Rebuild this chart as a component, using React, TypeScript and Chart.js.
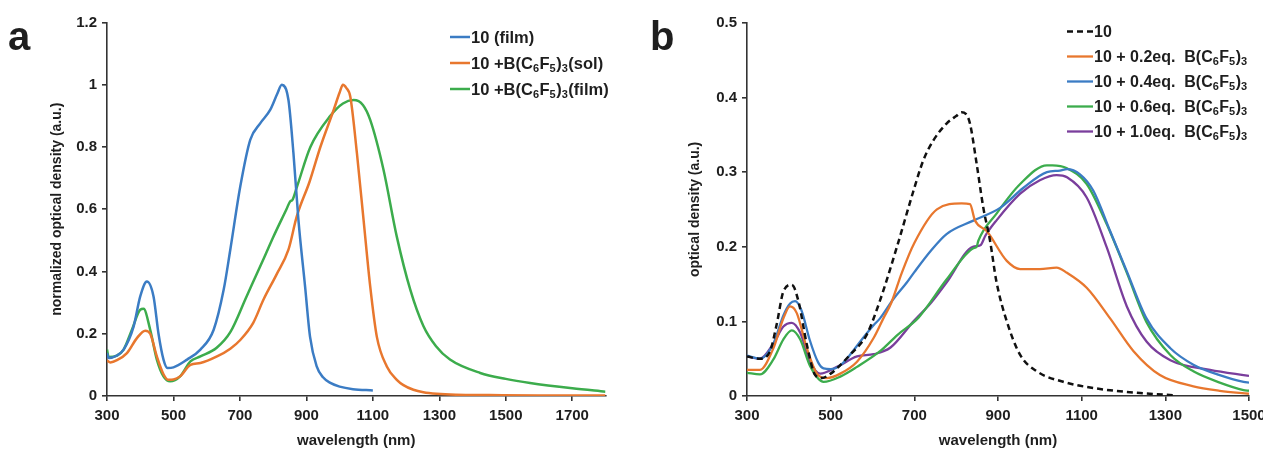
import React, { useEffect, useRef } from "react";
import { Chart, registerables } from "chart.js";
Chart.register(...registerables);

const FONT = "'Liberation Sans', Arial, sans-serif";

// ---------------- Panel a ----------------
const aXTicks = [300, 500, 700, 900, 1100, 1300, 1500, 1700];
const aYTicks = [0, 0.2, 0.4, 0.6, 0.8, 1, 1.2];
const aLabels = ["10 (film)", "10 +B(C₆F₅)₃(sol)", "10 +B(C₆F₅)₃(film)"];

const aFilmX = [300, 305, 330, 350, 380, 400, 420, 440, 455, 470, 482, 500, 541, 581, 621, 651, 671, 701, 731, 761, 791, 812, 826, 846, 861, 876, 896, 911, 931, 950, 972, 1000, 1040, 1100];
const aFilmY = [0.138, 0.122, 0.13, 0.149, 0.223, 0.32, 0.368, 0.32, 0.2, 0.117, 0.09, 0.092, 0.117, 0.149, 0.213, 0.341, 0.47, 0.673, 0.823, 0.876, 0.919, 0.97, 1.0, 0.951, 0.78, 0.566, 0.352, 0.19, 0.095, 0.06, 0.042, 0.03, 0.022, 0.018];

const aSolX = [300, 310, 330, 360, 390, 415, 430, 450, 470, 485, 500, 520, 551, 581, 631, 671, 701, 740, 771, 810, 846, 871, 910, 942, 982, 1000, 1010, 1020, 1032, 1052, 1072, 1092, 1112, 1142, 1172, 1192, 1222, 1252, 1292, 1350, 1450, 1600, 1800];
const aSolY = [0.114, 0.108, 0.115, 0.138, 0.186, 0.21, 0.2, 0.127, 0.07, 0.052, 0.053, 0.063, 0.1, 0.106, 0.127, 0.152, 0.18, 0.235, 0.31, 0.39, 0.47, 0.577, 0.69, 0.8, 0.919, 0.975, 1.0, 0.99, 0.962, 0.78, 0.566, 0.352, 0.19, 0.095, 0.052, 0.035, 0.02, 0.012, 0.007, 0.004, 0.003, 0.002, 0.002];

const aBFilmX = [300, 305, 330, 350, 375, 400, 410, 430, 450, 470, 490, 520, 551, 581, 630, 671, 720, 771, 800, 840, 851, 858, 871, 912, 972, 1010, 1042, 1070, 1092, 1132, 1172, 1213, 1252, 1290, 1332, 1423, 1500, 1573, 1700, 1800];
const aBFilmY = [0.149, 0.125, 0.13, 0.149, 0.213, 0.277, 0.28, 0.213, 0.117, 0.063, 0.047, 0.063, 0.111, 0.127, 0.155, 0.205, 0.32, 0.44, 0.51, 0.6, 0.625, 0.63, 0.67, 0.8, 0.9, 0.94, 0.951, 0.935, 0.887, 0.727, 0.512, 0.34, 0.225, 0.16, 0.117, 0.074, 0.055, 0.042, 0.025, 0.014];

// ---------------- Panel b ----------------
const bXTicks = [300, 500, 700, 900, 1100, 1300, 1500];
const bYTicks = [0, 0.1, 0.2, 0.3, 0.4, 0.5];
const bLabels = ["10", "10 + 0.2eq.  B(C₆F₅)₃", "10 + 0.4eq.  B(C₆F₅)₃", "10 + 0.6eq.  B(C₆F₅)₃", "10 + 1.0eq.  B(C₆F₅)₃"];

const bRefX = [300, 331, 355, 371, 387, 407, 423, 443, 463, 479, 500, 515, 546, 586, 618, 658, 698, 721, 745, 777, 800, 813, 823, 833, 849, 865, 881, 896, 921, 953, 993, 1056, 1136, 1240, 1320];
const bRefY = [0.053, 0.05, 0.06, 0.096, 0.14, 0.149, 0.127, 0.069, 0.028, 0.024, 0.03, 0.037, 0.055, 0.082, 0.128, 0.199, 0.275, 0.315, 0.342, 0.365, 0.375, 0.38, 0.378, 0.365, 0.311, 0.252, 0.208, 0.154, 0.1, 0.055, 0.033, 0.019, 0.01, 0.004, 0.001];

const b02X = [300, 331, 363, 387, 403, 419, 443, 467, 491, 523, 563, 603, 626, 645, 670, 700, 754, 813, 833, 845, 873, 921, 953, 1000, 1040, 1065, 1112, 1168, 1224, 1287, 1367, 1430, 1500];
const b02Y = [0.035, 0.035, 0.064, 0.104, 0.12, 0.111, 0.064, 0.03, 0.024, 0.03, 0.046, 0.078, 0.104, 0.125, 0.165, 0.205, 0.25, 0.258, 0.257, 0.235, 0.221, 0.181, 0.17, 0.17, 0.172, 0.165, 0.145, 0.104, 0.06, 0.028, 0.013, 0.007, 0.003];

const b04X = [300, 331, 363, 387, 403, 415, 430, 450, 470, 483, 500, 523, 546, 575, 603, 618, 650, 682, 700, 740, 777, 841, 905, 961, 1017, 1048, 1065, 1096, 1128, 1168, 1208, 1255, 1312, 1367, 1430, 1487, 1500];
const b04Y = [0.054, 0.05, 0.07, 0.108, 0.124, 0.127, 0.115, 0.075, 0.045, 0.037, 0.036, 0.041, 0.055, 0.076, 0.095, 0.104, 0.13, 0.152, 0.166, 0.195, 0.217, 0.235, 0.252, 0.279, 0.3, 0.302, 0.304, 0.297, 0.275, 0.221, 0.167, 0.104, 0.064, 0.042, 0.028, 0.019, 0.018];

const b06X = [300, 331, 363, 387, 407, 427, 451, 483, 523, 563, 618, 660, 710, 777, 841, 849, 853, 896, 953, 1017, 1030, 1065, 1112, 1160, 1208, 1255, 1312, 1367, 1430, 1487, 1500];
const b06Y = [0.031, 0.029, 0.049, 0.076, 0.088, 0.076, 0.04, 0.019, 0.026, 0.039, 0.06, 0.082, 0.105, 0.156, 0.198, 0.2, 0.208, 0.244, 0.284, 0.309, 0.309, 0.305, 0.284, 0.23, 0.165, 0.099, 0.055, 0.033, 0.018, 0.008, 0.007];

const b10X = [300, 331, 363, 387, 407, 427, 451, 475, 515, 563, 603, 643, 698, 740, 777, 840, 858, 870, 896, 953, 1000, 1040, 1065, 1112, 1160, 1208, 1255, 1312, 1407, 1487, 1500];
const b10Y = [0.053, 0.05, 0.07, 0.093, 0.098, 0.085, 0.046, 0.03, 0.039, 0.053, 0.056, 0.065, 0.1, 0.125, 0.152, 0.2, 0.202, 0.215, 0.235, 0.271, 0.289, 0.296, 0.293, 0.266, 0.199, 0.12, 0.073, 0.048, 0.035, 0.028, 0.027];

const BLUE = "#3b7cc4";
const ORANGE = "#e8772e";
const GREEN = "#3cac4c";
const PURPLE = "#7a3e9c";
const BLACK = "#111111";
const AXIS = "#333333";
const TEXT = "#1e1e1e";

const SUBS = "₀₁₂₃₄₅₆₇₈₉";

const pts = (xs: number[], ys: number[]) => xs.map((x, i) => ({ x, y: ys[i] }));

// draws a label, rendering unicode subscript digits as small lowered digits
function drawRich(ctx: CanvasRenderingContext2D, text: string, x: number, y: number, size: number) {
  const runs: { s: string; sub: boolean }[] = [];
  for (const ch of text) {
    const k = SUBS.indexOf(ch);
    const sub = k >= 0;
    const c = sub ? String(k) : ch;
    const last = runs[runs.length - 1];
    if (last && last.sub === sub) last.s += c;
    else runs.push({ s: c, sub });
  }
  let cx = x;
  for (const r of runs) {
    const fs = r.sub ? Math.round(size * 0.66) : size;
    ctx.font = `bold ${fs}px ${FONT}`;
    ctx.fillText(r.s, cx, r.sub ? y + size * 0.3 : y);
    cx += ctx.measureText(r.s).width + (r.sub ? 0.5 : 0);
  }
}

function legendPlugin(x: number, y0: number, gap: number, len: number, size: number) {
  return {
    id: "cornerLegend",
    afterDraw(chart: any) {
      const ctx = chart.ctx;
      ctx.save();
      chart.data.datasets.forEach((ds: any, i: number) => {
        const yy = y0 + i * gap;
        ctx.beginPath();
        ctx.strokeStyle = ds.borderColor;
        ctx.lineWidth = ds.borderWidth;
        ctx.setLineDash(ds.borderDash || []);
        ctx.moveTo(x, yy);
        ctx.lineTo(x + len, yy);
        ctx.stroke();
        ctx.setLineDash([]);
        ctx.fillStyle = TEXT;
        ctx.textBaseline = "middle";
        ctx.textAlign = "left";
        drawRich(ctx, ds.label, x + len + 1, yy + 1, size);
      });
      ctx.restore();
    },
  };
}

function axisCommon() {
  return {
    grid: { display: true, drawOnChartArea: false, drawTicks: true, tickLength: 5, color: AXIS, lineWidth: 1.6 },
    border: { display: true, color: AXIS, width: 1.6 },
  };
}

function makeConfig(p: {
  datasets: any[];
  xMin: number; xMax: number; xTicks: number[];
  yMax: number; yTicks: number[];
  yTitle: string; yAxisWidth: number; yTitlePad: number;
  padTop: number; padRight: number;
  legend: any;
}) {
  return {
    type: "line",
    data: { datasets: p.datasets },
    options: {
      responsive: false,
      animation: false,
      devicePixelRatio: 1,
      layout: { padding: { left: 0, top: p.padTop, right: p.padRight, bottom: 0 } },
      plugins: { legend: { display: false }, tooltip: { enabled: false }, title: { display: false } },
      elements: { point: { radius: 0 }, line: { cubicInterpolationMode: "monotone" } },
      scales: {
        x: {
          type: "linear",
          min: p.xMin,
          max: p.xMax,
          ...axisCommon(),
          afterBuildTicks: (s: any) => { s.ticks = p.xTicks.map((v) => ({ value: v })); },
          afterFit: (s: any) => { s.height = 60; },
          ticks: {
            font: { family: FONT, size: 15, weight: "bold" }, color: TEXT, padding: 6, maxRotation: 0, autoSkip: false,
            callback: (v: any) => String(v),
          },
          title: { display: true, text: "wavelength (nm)", font: { family: FONT, size: 15, weight: "bold" }, color: TEXT, padding: { top: 0, bottom: 6 } },
        },
        y: {
          type: "linear",
          min: 0,
          max: p.yMax,
          ...axisCommon(),
          afterBuildTicks: (s: any) => { s.ticks = p.yTicks.map((v) => ({ value: v })); },
          afterFit: (s: any) => { s.width = p.yAxisWidth; },
          ticks: {
            font: { family: FONT, size: 15, weight: "bold" }, color: TEXT, padding: 5,
            callback: (v: any) => String(Math.round(Number(v) * 10) / 10),
          },
          title: { display: true, text: p.yTitle, font: { family: FONT, size: 14, weight: "bold" }, color: TEXT, padding: { top: p.yTitlePad, bottom: 0 } },
        },
      },
    },
    plugins: [p.legend],
  };
}

const line = (label: string, xs: number[], ys: number[], color: string, width: number, dash?: number[]) => ({
  label,
  data: pts(xs, ys),
  borderColor: color,
  backgroundColor: color,
  borderWidth: width,
  borderDash: dash || [],
  fill: false,
  pointRadius: 0,
});

export default function App() {
  const refA = useRef<HTMLCanvasElement>(null);
  const refB = useRef<HTMLCanvasElement>(null);

  useEffect(() => {
    const cfgA: any = makeConfig({
      datasets: [
        line(aLabels[0], aFilmX, aFilmY, BLUE, 2.5),
        line(aLabels[1], aSolX, aSolY, ORANGE, 2.5),
        line(aLabels[2], aBFilmX, aBFilmY, GREEN, 2.5),
      ],
      xMin: 300, xMax: 1800, xTicks: aXTicks,
      yMax: 1.2, yTicks: aYTicks,
      yTitle: "normalized optical density (a.u.)", yAxisWidth: 107, yTitlePad: 49,
      padTop: 22.5, padRight: 630 - 605.5,
      legend: legendPlugin(450, 37, 26, 20, 16.5),
    });
    const cfgB: any = makeConfig({
      datasets: [
        line(bLabels[0], bRefX, bRefY, BLACK, 2.5, [6, 4]),
        line(bLabels[1], b02X, b02Y, ORANGE, 2.3),
        line(bLabels[2], b04X, b04Y, BLUE, 2.3),
        line(bLabels[3], b06X, b06Y, GREEN, 2.3),
        line(bLabels[4], b10X, b10Y, PURPLE, 2.3),
      ],
      xMin: 300, xMax: 1500, xTicks: bXTicks,
      yMax: 0.5, yTicks: bYTicks,
      yTitle: "optical density (a.u.)", yAxisWidth: 117, yTitlePad: 57,
      padTop: 22.8, padRight: 660 - 619,
      legend: legendPlugin(437, 31.5, 25, 26, 16),
    });
    const ca = new Chart(refA.current as HTMLCanvasElement, cfgA);
    const cb = new Chart(refB.current as HTMLCanvasElement, cfgB);
    return () => { ca.destroy(); cb.destroy(); };
  }, []);

  const letter: React.CSSProperties = {
    position: "absolute", fontFamily: FONT, fontWeight: "bold", fontSize: 40, lineHeight: "40px", color: TEXT,
  };

  return (
    <div style={{ position: "fixed", left: 0, top: 0, width: 1263, height: 456, overflow: "hidden", background: "#fff" }}>
      <canvas ref={refA} width={630} height={456} style={{ position: "absolute", left: 0, top: 0, width: 630, height: 456 }} />
      <canvas ref={refB} width={660} height={456} style={{ position: "absolute", left: 630, top: 0, width: 660, height: 456 }} />
      <div style={{ ...letter, left: 8, top: 16 }}>a</div>
      <div style={{ ...letter, left: 650, top: 16 }}>b</div>
    </div>
  );
}
